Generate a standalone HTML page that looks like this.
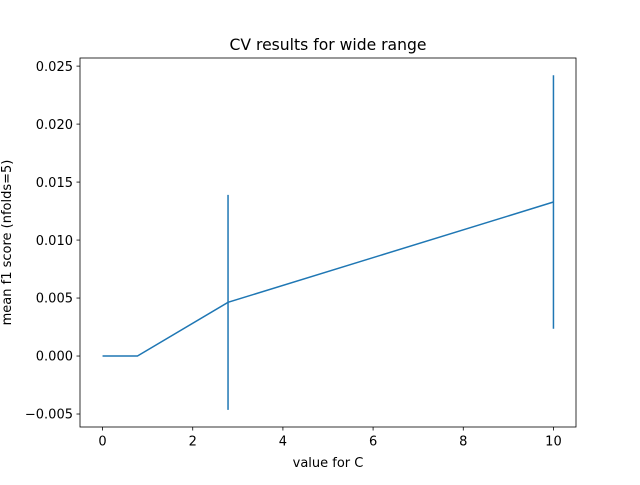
<!DOCTYPE html>
<html><head><meta charset="utf-8"><style>
body{margin:0;background:#fff;}
svg text{font-family:"DejaVu Sans","Liberation Sans",sans-serif;fill:#000;}
</style></head><body>
<svg id="chart" width="640" height="480" xmlns="http://www.w3.org/2000/svg">
<rect width="640" height="480" fill="#fff"/>
<g id="plot"></g>
</svg>
<script>
const cValues = [0, 0.774, 2.783, 10];
const meanScores = [0, 0, 0.00463, 0.01328];
const scoreErrors = [0, 0, 0.00927, 0.01093];
const xTicks = [0, 2, 4, 6, 8, 10];
const yTicks = [-0.005, 0, 0.005, 0.010, 0.015, 0.020, 0.025];

const L=80,R=576,T=58,B=427;
const xmin=-0.5,xmax=10.5,ymin=-0.00612,ymax=0.0257;
const sx=v=>L+(v-xmin)/(xmax-xmin)*(R-L);
const sy=v=>B-(v-ymin)/(ymax-ymin)*(B-T);
const ns='http://www.w3.org/2000/svg';
const g=document.getElementById('plot');
function mk(t,a,txt){const e=document.createElementNS(ns,t);for(const k in a)e.setAttribute(k,a[k]);if(txt!==undefined)e.textContent=txt;g.appendChild(e);return e;}

cValues.forEach((c,i)=>{
  if(scoreErrors[i]>0){
    const e=mk('line',{x1:sx(c),x2:sx(c),y1:sy(meanScores[i]-scoreErrors[i]),y2:sy(meanScores[i]+scoreErrors[i]),stroke:'#1f77b4','stroke-width':1.5});
    
    
  }
});
const line=mk('polyline',{points:cValues.map((c,i)=>sx(c)+','+sy(meanScores[i])).join(' '),fill:'none',stroke:'#1f77b4','stroke-width':1.5});



const fr=mk('rect',{x:L,y:T,width:R-L,height:B-T,fill:'none',stroke:'#000','stroke-width':0.8});



xTicks.forEach(v=>{
  const x=sx(v);
  mk('line',{x1:x,x2:x,y1:B,y2:B+3.5,stroke:'#000','stroke-width':0.8});
  const t=mk('text',{x:x,y:B+18.5,'text-anchor':'middle','font-size':13},String(v));
  
  
});
yTicks.forEach(v=>{
  const y=sy(v);
  mk('line',{x1:L,x2:L-3.5,y1:y,y2:y,stroke:'#000','stroke-width':0.8});
  const t=mk('text',{x:L-7,y:y+4.7,'text-anchor':'end','font-size':13},(v<0?'\u22120.005':v.toFixed(3)));
  
  
});
const ti=mk('text',{x:(L+R)/2,y:T-8,'text-anchor':'middle','font-size':15.6},'CV results for wide range');


const xl=mk('text',{x:(L+R)/2,y:467,'text-anchor':'middle','font-size':13},'value for C');


const yl=mk('text',{x:0,y:0,'text-anchor':'middle','font-size':13,transform:'translate(11,'+((T+B)/2)+') rotate(-90)'},'mean f1 score (nfolds=5)');


</script>
</body></html>
